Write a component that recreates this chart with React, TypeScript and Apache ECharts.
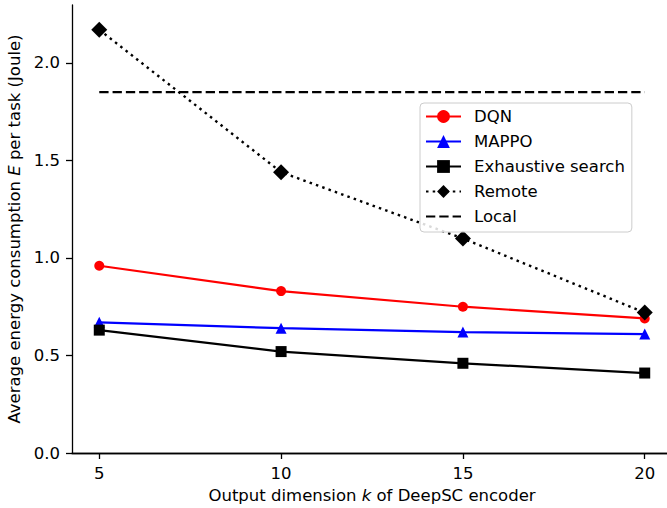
import React, { useEffect, useRef } from "react";
import * as echarts from "echarts";

const kValues = [5, 10, 15, 20];
const dqn = [0.96, 0.83, 0.75, 0.69];
const mappo = [0.67, 0.64, 0.62, 0.61];
const exhaustive = [0.63, 0.52, 0.46, 0.41];
const remote = [2.17, 1.44, 1.1, 0.72];
const local = [1.85, 1.85, 1.85, 1.85];
const xTicks = [5, 10, 15, 20];
const legendNames = ["DQN", "MAPPO", "Exhaustive search", "Remote", "Local"];

const FONT = "DejaVu Sans";
const FS = 16.5;

const pairs = (ys: number[]) => kValues.map((x, i) => [x, ys[i]]);

export default function App() {
  const ref = useRef<HTMLDivElement>(null);
  useEffect(() => {
    if (!ref.current) return;
    const chart = echarts.init(ref.current, undefined, { renderer: "svg" });
    const axisLine = { show: true, lineStyle: { color: "#000", width: 1.3 } };
    chart.setOption({
      animation: false,
      backgroundColor: "#fff",
      textStyle: { fontFamily: FONT },
      grid: { left: 72, right: 8, top: 5, bottom: 55, containLabel: false, outerBoundsMode: "none" },
      xAxis: [
        {
          type: "value",
          min: 4.25,
          max: 20.75,
          name: "Output dimension {i|k} of DeepSC encoder",
          nameLocation: "middle",
          nameGap: 33,
          nameTextStyle: {
            fontFamily: FONT,
            fontSize: FS,
            color: "#000",
            rich: { i: { fontStyle: "italic", fontFamily: FONT, fontSize: FS, color: "#000" } },
          },
          axisLine,
          axisTick: { show: true, length: 6, inside: false, lineStyle: { color: "#000", width: 1.3 }, customValues: xTicks },
          axisLabel: { show: true, margin: 12, fontFamily: FONT, fontSize: FS, color: "#000", customValues: xTicks },
          splitLine: { show: false },
        },
        {
          type: "value",
          position: "top",
          min: 4.25,
          max: 20.75,
          axisLine,
          axisTick: { show: false },
          axisLabel: { show: false },
          splitLine: { show: false },
        },
      ],
      yAxis: [
        {
          type: "value",
          min: 0,
          max: 2.297,
          interval: 0.5,
          name: "Average energy consumption {i|E} per task (Joule)",
          nameLocation: "middle",
          nameGap: 46,
          nameRotate: 90,
          nameTextStyle: {
            fontFamily: FONT,
            fontSize: FS,
            color: "#000",
            rich: { i: { fontStyle: "italic", fontFamily: FONT, fontSize: FS, color: "#000" } },
          },
          axisLine,
          axisTick: { show: true, length: 6, lineStyle: { color: "#000", width: 1.3 } },
          axisLabel: {
            show: true,
            margin: 12,
            fontFamily: FONT,
            fontSize: FS,
            color: "#000",
            showMaxLabel: false,
            formatter: (v: number) => v.toFixed(1),
          },
          splitLine: { show: false },
        },
        {
          type: "value",
          position: "right",
          min: 0,
          max: 2.297,
          axisLine,
          axisTick: { show: false },
          axisLabel: { show: false },
          splitLine: { show: false },
        },
      ],
      legend: {
        orient: "vertical",
        left: 420,
        top: 103,
        padding: [5, 7, 7, 5],
        itemGap: 8,
        itemWidth: 35,
        itemHeight: 16,
        borderColor: "#cccccc",
        borderWidth: 1,
        borderRadius: 4,
        backgroundColor: "rgba(255,255,255,0.85)",
        textStyle: { fontFamily: FONT, fontSize: FS, color: "#000", padding: [0, 0, 0, 8] },
        data: legendNames.map((n) =>
          n === "Local"
            ? { name: n, itemStyle: { color: "rgba(0,0,0,0)", borderColor: "rgba(0,0,0,0)", borderWidth: 0 } }
            : { name: n }
        ),
      },
      series: [
        {
          name: "DQN",
          type: "line",
          data: pairs(dqn),
          symbol: "circle",
          symbolSize: 10,
          itemStyle: { color: "#ff0000" },
          lineStyle: { color: "#ff0000", width: 2.2 },
          z: 2,
        },
        {
          name: "MAPPO",
          type: "line",
          data: pairs(mappo),
          symbol: "triangle",
          symbolSize: 11,
          itemStyle: { color: "#0000ff" },
          lineStyle: { color: "#0000ff", width: 2.2 },
          z: 2,
        },
        {
          name: "Exhaustive search",
          type: "line",
          data: pairs(exhaustive),
          symbol: "rect",
          symbolSize: 11,
          itemStyle: { color: "#000" },
          lineStyle: { color: "#000", width: 2.2 },
          z: 2,
        },
        {
          name: "Remote",
          type: "line",
          data: pairs(remote),
          symbol: "diamond",
          symbolSize: 16,
          itemStyle: { color: "#000" },
          lineStyle: { color: "#000", width: 2.4, type: [2.5, 4.2] },
          z: 3,
        },
        {
          name: "Local",
          type: "line",
          data: pairs(local),
          symbol: "none",
          itemStyle: { color: "#000" },
          lineStyle: { color: "#000", width: 2.2, type: [9.3, 4] },
          z: 3,
        },
      ],
    });
    return () => chart.dispose();
  }, []);
  return (
    <div style={{ position: "fixed", left: 0, top: 0, width: 667, height: 508, overflow: "hidden", background: "#fff" }}>
      <div ref={ref} style={{ width: 680, height: 508 }} />
    </div>
  );
}
